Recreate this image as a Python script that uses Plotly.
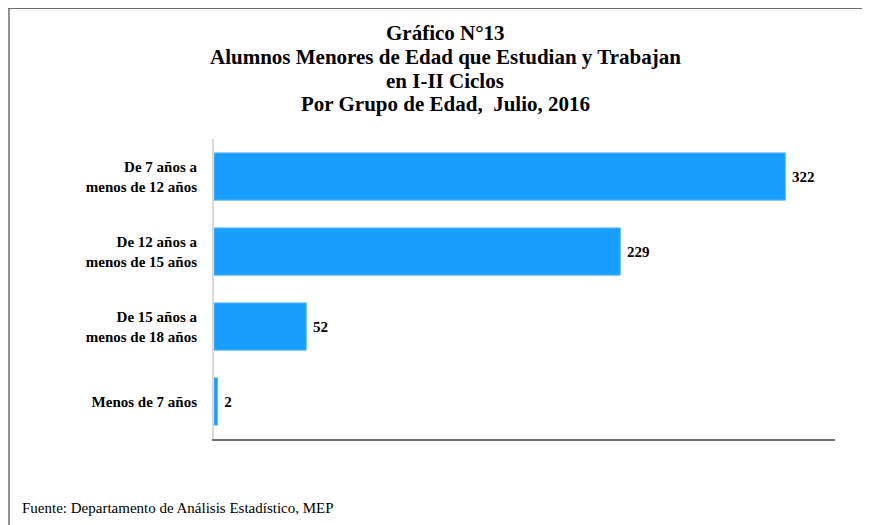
import plotly.graph_objects as go

categories = [
    "De 7 años a<br>menos de 12 años",
    "De 12 años a<br>menos de 15 años",
    "De 15 años a<br>menos de 18 años",
    "Menos de 7 años",
]
values = [322, 229, 52, 2]

title_lines = [
    "Gráfico N°13",
    "Alumnos Menores de Edad que Estudian y Trabajan",
    "en I-II Ciclos",
    "Por Grupo de Edad,  Julio, 2016",
]
source_text = "Fuente: Departamento de Análisis Estadístico, MEP"

W, H = 870, 525
# page offset of the figure (body margin) compensated
OFF = 8
L, R, T, B = 214 - OFF, 835 - OFF, 139 - OFF, 439 - OFF

def px(x):
    return (x - OFF - L) / (R - L)

def py(y):
    return (B - (y - OFF)) / (B - T)

SERIF = "Liberation Serif, Times New Roman, serif"

fig = go.Figure(
    go.Bar(
        x=values,
        y=categories,
        orientation="h",
        width=0.63,
        marker=dict(color="#189EFD", line=dict(color="#5DB8F8", width=1)),
        texttemplate="\u00a0%{x}",
        textposition="outside",
        textfont=dict(family=SERIF, size=15, color="#000000", weight="bold"),
        cliponaxis=False,
    )
)

fig.update_layout(
    width=W,
    height=H,
    margin=dict(l=L, r=W - R, t=T, b=H - B, pad=0),
    paper_bgcolor="white",
    plot_bgcolor="white",
    showlegend=False,
    xaxis=dict(
        range=[0, 350],
        showgrid=False,
        zeroline=False,
        showticklabels=False,
        ticks="",
        showline=True,
        linecolor="#707070",
        linewidth=2,
        fixedrange=True,
    ),
    yaxis=dict(
        autorange="reversed",
        showgrid=False,
        zeroline=False,
        ticks="",
        showline=True,
        linecolor="#D9D9D9",
        linewidth=2,
        ticklabelstandoff=12,
        tickfont=dict(family=SERIF, size=15, color="#000000", weight="bold"),
        fixedrange=True,
    ),
    font=dict(family=SERIF),
)

title_y = [33, 57, 81, 104]
for txt, yy in zip(title_lines, title_y):
    fig.add_annotation(
        text=f"<b>{txt}</b>",
        xref="paper", yref="paper",
        x=px(445), y=py(yy),
        xanchor="center", yanchor="middle",
        showarrow=False,
        font=dict(family=SERIF, size=21, color="#000000"),
    )

fig.add_annotation(
    text=source_text,
    xref="paper", yref="paper",
    x=px(20), y=py(508),
    xanchor="left", yanchor="middle",
    showarrow=False,
    font=dict(family=SERIF, size=15, color="#000000"),
)

# outer frame (top and left edges)
fig.add_shape(type="line", xref="paper", yref="paper",
              x0=px(8), x1=px(880), y0=py(8), y1=py(8),
              line=dict(color="#6E6E6E", width=2))
fig.add_shape(type="line", xref="paper", yref="paper",
              x0=px(9), x1=px(9), y0=py(8), y1=py(540),
              line=dict(color="#6E6E6E", width=1.5))

fig.write_html("out.html")
